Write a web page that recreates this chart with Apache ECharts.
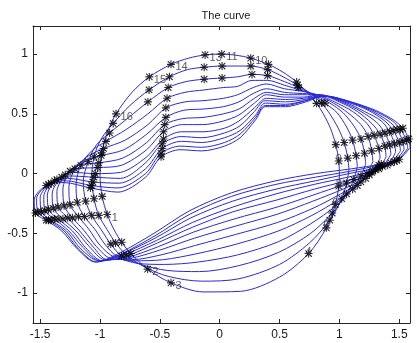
<!DOCTYPE html>
<html>
<head>
<meta charset="utf-8">
<title>The curve</title>
<script src="https://cdn.jsdelivr.net/npm/echarts@6.0.0/dist/echarts.min.js"></script>
<style>
  html, body { margin: 0; padding: 0; background: #fff; }
  #CurveChart { width: 417px; height: 343px; }
</style>
</head>
<body>
<div id="CurveChart"></div>
<script>
const xTicks = [-1.5, -1, -0.5, 0, 0.5, 1, 1.5];
const yTicks = [-1, -0.5, 0, 0.5, 1];

// one closed curve per iteration, same 36 tracked points on each
const curve0 = [[1.00,0.00],[0.995,0.105],[0.97,0.242],[0.927,0.375],[0.866,0.50],[0.809,0.588],[0.743,0.669],[0.643,0.766],[0.53,0.848],[0.407,0.914],[0.259,0.966],[0.139,0.99],[0.017,1.00],[-0.122,0.993],[-0.259,0.966],[-0.407,0.914],[-0.588,0.809],[-0.731,0.682],[-0.866,0.50],[-0.94,0.342],[-0.985,0.174],[-1.00,-0.017],[-0.982,-0.191],[-0.94,-0.342],[-0.883,-0.469],[-0.819,-0.574],[-0.743,-0.669],[-0.602,-0.799],[-0.407,-0.914],[-0.139,-0.99],[0.174,-0.985],[0.50,-0.866],[0.743,-0.669],[0.891,-0.454],[0.966,-0.259],[0.995,-0.105]];
const curve1 = [[1.08,0.03],[1.07,0.13],[1.04,0.26],[0.99,0.38],[0.92,0.50],[0.85,0.59],[0.76,0.67],[0.65,0.74],[0.53,0.81],[0.40,0.87],[0.26,0.90],[0.14,0.90],[0.02,0.90],[-0.13,0.89],[-0.27,0.87],[-0.42,0.81],[-0.59,0.70],[-0.75,0.57],[-0.89,0.42],[-0.99,0.29],[-1.05,0.14],[-1.07,-0.04],[-1.05,-0.21],[-1.01,-0.35],[-0.94,-0.47],[-0.87,-0.58],[-0.78,-0.68],[-0.63,-0.78],[-0.43,-0.86],[-0.15,-0.90],[0.16,-0.88],[0.50,-0.76],[0.75,-0.58],[0.92,-0.39],[1.02,-0.21],[1.06,-0.08]];
const curve2 = [[1.15,0.06],[1.14,0.15],[1.11,0.28],[1.06,0.39],[0.98,0.51],[0.88,0.59],[0.78,0.66],[0.66,0.72],[0.54,0.77],[0.40,0.82],[0.27,0.83],[0.15,0.81],[0.02,0.80],[-0.13,0.79],[-0.28,0.77],[-0.43,0.72],[-0.60,0.60],[-0.76,0.47],[-0.92,0.34],[-1.03,0.24],[-1.10,0.10],[-1.14,-0.07],[-1.12,-0.23],[-1.07,-0.35],[-0.99,-0.47],[-0.91,-0.59],[-0.82,-0.69],[-0.66,-0.76],[-0.44,-0.81],[-0.17,-0.82],[0.16,-0.77],[0.49,-0.66],[0.76,-0.50],[0.94,-0.33],[1.06,-0.17],[1.12,-0.05]];
const curve3 = [[1.22,0.08],[1.21,0.17],[1.18,0.29],[1.12,0.40],[1.03,0.51],[0.92,0.59],[0.79,0.66],[0.67,0.70],[0.54,0.74],[0.40,0.78],[0.27,0.78],[0.15,0.73],[0.03,0.72],[-0.13,0.70],[-0.29,0.68],[-0.44,0.63],[-0.60,0.50],[-0.78,0.37],[-0.95,0.27],[-1.07,0.19],[-1.16,0.07],[-1.20,-0.09],[-1.19,-0.24],[-1.13,-0.36],[-1.04,-0.47],[-0.96,-0.59],[-0.85,-0.70],[-0.69,-0.75],[-0.46,-0.76],[-0.18,-0.74],[0.15,-0.68],[0.49,-0.57],[0.76,-0.42],[0.97,-0.27],[1.11,-0.13],[1.18,-0.02]];
const curve4 = [[1.28,0.10],[1.27,0.19],[1.24,0.31],[1.18,0.41],[1.07,0.51],[0.95,0.59],[0.81,0.66],[0.68,0.69],[0.54,0.71],[0.39,0.75],[0.28,0.72],[0.15,0.66],[0.03,0.63],[-0.14,0.61],[-0.29,0.60],[-0.45,0.55],[-0.60,0.41],[-0.79,0.28],[-0.97,0.21],[-1.11,0.14],[-1.21,0.04],[-1.26,-0.11],[-1.25,-0.26],[-1.18,-0.36],[-1.09,-0.47],[-1.00,-0.60],[-0.88,-0.70],[-0.71,-0.73],[-0.47,-0.72],[-0.19,-0.67],[0.14,-0.59],[0.49,-0.48],[0.77,-0.35],[0.99,-0.22],[1.15,-0.10],[1.23,0.00]];
const curve5 = [[1.34,0.13],[1.33,0.21],[1.29,0.32],[1.23,0.42],[1.11,0.52],[0.98,0.59],[0.82,0.66],[0.69,0.67],[0.54,0.68],[0.39,0.71],[0.28,0.67],[0.16,0.60],[0.03,0.56],[-0.14,0.54],[-0.30,0.53],[-0.45,0.47],[-0.61,0.33],[-0.80,0.20],[-0.99,0.15],[-1.15,0.10],[-1.25,0.02],[-1.31,-0.13],[-1.30,-0.27],[-1.23,-0.37],[-1.13,-0.48],[-1.03,-0.61],[-0.91,-0.71],[-0.73,-0.72],[-0.49,-0.68],[-0.20,-0.60],[0.13,-0.51],[0.48,-0.41],[0.78,-0.29],[1.01,-0.17],[1.18,-0.07],[1.28,0.02]];
const curve6 = [[1.39,0.14],[1.38,0.23],[1.34,0.33],[1.27,0.42],[1.15,0.52],[1.00,0.60],[0.83,0.66],[0.69,0.66],[0.54,0.66],[0.39,0.68],[0.29,0.63],[0.16,0.54],[0.03,0.50],[-0.14,0.47],[-0.31,0.46],[-0.46,0.41],[-0.61,0.26],[-0.81,0.13],[-1.01,0.09],[-1.18,0.07],[-1.29,-0.01],[-1.36,-0.15],[-1.35,-0.28],[-1.27,-0.37],[-1.17,-0.48],[-1.06,-0.61],[-0.94,-0.72],[-0.75,-0.71],[-0.50,-0.64],[-0.21,-0.54],[0.13,-0.44],[0.48,-0.34],[0.78,-0.23],[1.03,-0.13],[1.22,-0.04],[1.33,0.04]];
const curve7 = [[1.43,0.16],[1.42,0.24],[1.38,0.34],[1.31,0.43],[1.18,0.52],[1.02,0.60],[0.84,0.66],[0.70,0.64],[0.54,0.64],[0.39,0.66],[0.29,0.59],[0.16,0.49],[0.03,0.44],[-0.14,0.41],[-0.31,0.41],[-0.47,0.35],[-0.61,0.20],[-0.82,0.07],[-1.02,0.05],[-1.20,0.04],[-1.32,-0.03],[-1.40,-0.17],[-1.39,-0.29],[-1.31,-0.38],[-1.20,-0.48],[-1.09,-0.61],[-0.96,-0.72],[-0.77,-0.70],[-0.51,-0.61],[-0.22,-0.49],[0.12,-0.38],[0.48,-0.28],[0.78,-0.18],[1.04,-0.09],[1.25,-0.01],[1.36,0.06]];
const curve8 = [[1.47,0.18],[1.46,0.25],[1.42,0.35],[1.35,0.44],[1.21,0.52],[1.04,0.60],[0.85,0.65],[0.70,0.63],[0.55,0.62],[0.39,0.63],[0.29,0.55],[0.16,0.44],[0.04,0.38],[-0.14,0.35],[-0.32,0.35],[-0.47,0.29],[-0.61,0.14],[-0.83,0.01],[-1.04,0.00],[-1.23,0.01],[-1.36,-0.05],[-1.44,-0.18],[-1.43,-0.30],[-1.35,-0.38],[-1.23,-0.48],[-1.12,-0.62],[-0.98,-0.73],[-0.78,-0.69],[-0.52,-0.58],[-0.23,-0.45],[0.11,-0.32],[0.48,-0.22],[0.79,-0.13],[1.06,-0.06],[1.27,0.01],[1.40,0.07]];
const curve9 = [[1.51,0.19],[1.50,0.26],[1.45,0.36],[1.38,0.44],[1.24,0.53],[1.06,0.60],[0.86,0.65],[0.71,0.62],[0.55,0.60],[0.38,0.61],[0.29,0.52],[0.17,0.40],[0.04,0.34],[-0.15,0.30],[-0.32,0.31],[-0.48,0.25],[-0.62,0.09],[-0.83,-0.04],[-1.05,-0.03],[-1.25,-0.02],[-1.38,-0.06],[-1.47,-0.19],[-1.46,-0.31],[-1.38,-0.38],[-1.26,-0.48],[-1.14,-0.62],[-1.00,-0.73],[-0.80,-0.68],[-0.53,-0.56],[-0.23,-0.41],[0.11,-0.28],[0.47,-0.17],[0.79,-0.09],[1.07,-0.03],[1.30,0.03],[1.43,0.09]];
const curve10 = [[1.54,0.20],[1.53,0.27],[1.48,0.37],[1.41,0.44],[1.26,0.53],[1.08,0.60],[0.87,0.65],[0.71,0.61],[0.55,0.58],[0.38,0.59],[0.30,0.49],[0.17,0.36],[0.04,0.30],[-0.15,0.26],[-0.32,0.27],[-0.48,0.21],[-0.62,0.04],[-0.84,-0.08],[-1.06,-0.07],[-1.27,-0.04],[-1.41,-0.08],[-1.50,-0.20],[-1.49,-0.32],[-1.41,-0.39],[-1.28,-0.48],[-1.16,-0.63],[-1.01,-0.73],[-0.81,-0.67],[-0.54,-0.54],[-0.24,-0.37],[0.11,-0.23],[0.47,-0.13],[0.80,-0.06],[1.08,0.00],[1.32,0.05],[1.46,0.10]];
const curve11 = [[1.57,0.21],[1.56,0.28],[1.51,0.37],[1.43,0.45],[1.28,0.53],[1.09,0.60],[0.88,0.65],[0.72,0.61],[0.55,0.57],[0.38,0.57],[0.30,0.47],[0.17,0.33],[0.04,0.26],[-0.15,0.22],[-0.33,0.23],[-0.49,0.17],[-0.62,0.00],[-0.85,-0.12],[-1.07,-0.10],[-1.29,-0.06],[-1.43,-0.09],[-1.53,-0.21],[-1.52,-0.32],[-1.43,-0.39],[-1.30,-0.48],[-1.18,-0.63],[-1.03,-0.74],[-0.82,-0.67],[-0.54,-0.52],[-0.25,-0.34],[0.10,-0.19],[0.47,-0.09],[0.80,-0.03],[1.09,0.02],[1.33,0.07],[1.48,0.11]];
const curve12 = [[1.59,0.22],[1.58,0.29],[1.53,0.38],[1.45,0.45],[1.30,0.53],[1.10,0.60],[0.88,0.65],[0.72,0.60],[0.55,0.56],[0.38,0.56],[0.30,0.45],[0.17,0.30],[0.04,0.23],[-0.15,0.19],[-0.33,0.20],[-0.49,0.14],[-0.62,-0.03],[-0.85,-0.155],[-1.08,-0.12],[-1.30,-0.075],[-1.45,-0.10],[-1.55,-0.22],[-1.54,-0.33],[-1.45,-0.39],[-1.32,-0.48],[-1.19,-0.63],[-1.04,-0.74],[-0.83,-0.66],[-0.55,-0.50],[-0.25,-0.31],[0.10,-0.16],[0.47,-0.06],[0.80,0.00],[1.10,0.04],[1.35,0.08],[1.50,0.12]];

const curves = [curve0, curve1, curve2, curve3, curve4, curve5, curve6,
  curve7, curve8, curve9, curve10, curve11, curve12];

// tracked points starred on every curve, on the first three curves, on the first only
const starIdx = [1, 2, 15, 18, 20, 22, 23, 34, 35];
const earlyStarIdx = [5, 7, 9, 10, 12, 13, 16, 25, 26, 33];
const firstOnlyIdx = [27, 28, 32];

// point numbers written beside / on top of the first curve
const sideNames = ['1', '2', '3', '10', '11', '13', '14', '15', '16'];
const sideIdx = [23, 27, 28, 10, 12, 13, 15, 16, 18];
const onNames = ['4', '5', '6', '8', '9'];
const onIdx = [32, 33, 34, 35, 1];

const asterisk = 'path://M8.6 0H11.4V20H8.6Z M0 8.6H20V11.4H0Z ' +
  'M3 1L19 17L17 19L1 3Z M17 1L19 3L3 19L1 17Z';

const font = 'Liberation Sans, Arial, Helvetica, sans-serif';
const axisColor = '#262626';

let chart = echarts.init(document.getElementById('CurveChart'));

let series = [];
curves.forEach((c) => {
  series.push({
    type: 'line',
    data: c.concat([c[0]]),
    smooth: 0.3,
    showSymbol: false,
    silent: true,
    z: 2,
    lineStyle: {color: '#2a2ad4', width: 1}
  });
});

let stars = [];
curves.forEach((c, k) => {
  starIdx.forEach((i) => stars.push(c[i]));
  if (k < 3) earlyStarIdx.forEach((i) => stars.push(c[i]));
});
firstOnlyIdx.forEach((i) => stars.push(curve0[i]));

series.push({
  type: 'scatter',
  data: stars,
  symbol: asterisk,
  symbolSize: 8,
  silent: true,
  z: 3,
  itemStyle: {color: '#000'}
});

series.push({
  type: 'scatter',
  data: sideIdx.map((i, n) => ({value: curve0[i], name: sideNames[n]})),
  symbolSize: 1,
  silent: true,
  z: 4,
  itemStyle: {color: 'rgba(0,0,0,0)'},
  label: {
    show: true, position: 'right', distance: 4, offset: [0, 3],
    formatter: '{b}', color: '#333', fontSize: 11, fontFamily: font
  }
});

series.push({
  type: 'scatter',
  data: onIdx.map((i, n) => ({value: curve0[i], name: onNames[n]})),
  symbolSize: 1,
  silent: true,
  z: 4,
  itemStyle: {color: 'rgba(0,0,0,0)'},
  label: {
    show: true, position: 'inside', offset: [0, -2],
    formatter: '{b}', color: '#333', fontSize: 11, fontFamily: font
  }
});

const boxAxis = (pos, ticks, range, labels) => ({
  type: 'value',
  position: pos,
  min: range[0],
  max: range[1],
  splitLine: {show: false},
  axisLine: {show: true, onZero: false, lineStyle: {color: axisColor, width: 1}},
  axisTick: {show: true, inside: true, length: 4, customValues: ticks,
    lineStyle: {color: axisColor}},
  axisLabel: {show: labels, customValues: ticks, color: '#1a1a1a',
    fontSize: 12, fontFamily: font, margin: pos === 'bottom' ? 6 : 5}
});

let option = {
  animation: false,
  backgroundColor: '#fff',
  title: {
    text: 'The curve',
    left: 221,
    top: 5,
    textAlign: 'center',
    textStyle: {fontSize: 11, fontWeight: 'normal', color: '#1a1a1a', fontFamily: font}
  },
  grid: {left: 33, right: 7, top: 26, bottom: 20, containLabel: false},
  xAxis: [
    boxAxis('bottom', xTicks, [-1.56, 1.59], true),
    boxAxis('top', xTicks, [-1.56, 1.59], false)
  ],
  yAxis: [
    boxAxis('left', yTicks, [-1.25, 1.235], true),
    boxAxis('right', yTicks, [-1.25, 1.235], false)
  ],
  series: series
};

chart.setOption(option);
</script>
</body>
</html>
